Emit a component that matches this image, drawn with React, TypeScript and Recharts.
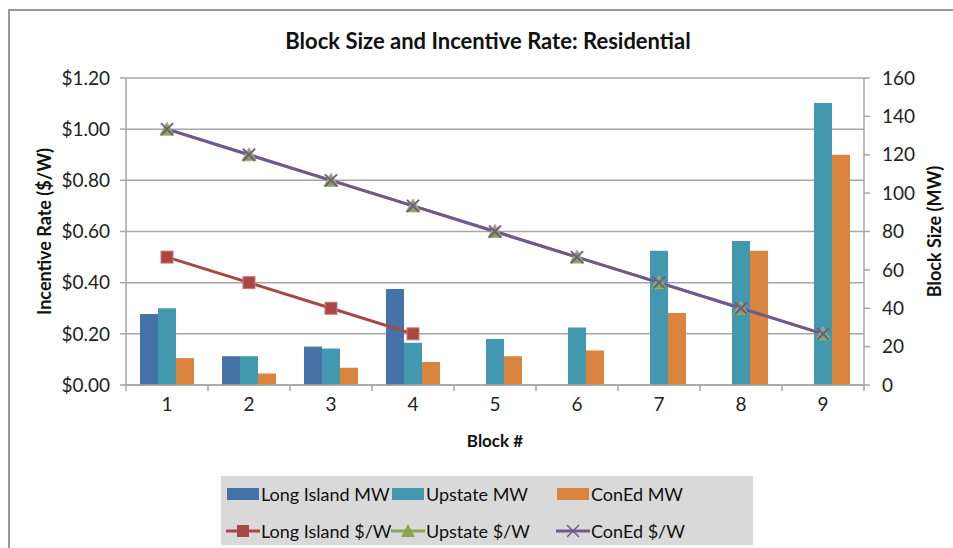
import React from "react";
import {
  ComposedChart,
  Bar,
  Line,
  XAxis,
  YAxis,
  CartesianGrid,
} from "recharts";

const blocks = ["1", "2", "3", "4", "5", "6", "7", "8", "9"];
const longIslandMW = [37, 15, 20, 50, null, null, null, null, null];
const upstateMW = [40, 15, 19, 22, 24, 30, 70, 75, 147];
const conEdMW = [14, 6, 9, 12, 15, 18, 37.5, 70, 120];
const longIslandRate = [0.5, 0.4, 0.3, 0.2, null, null, null, null, null];
const upstateRate = [1.0, 0.9, 0.8, 0.7, 0.6, 0.5, 0.4, 0.3, 0.2];
const conEdRate = [1.0, 0.9, 0.8, 0.7, 0.6, 0.5, 0.4, 0.3, 0.2];

const rateTicks = [0, 0.2, 0.4, 0.6, 0.8, 1.0, 1.2];
const sizeTicks = [0, 20, 40, 60, 80, 100, 120, 140, 160];

const data = blocks.map((b, i) => ({
  block: b,
  liMW: longIslandMW[i],
  upMW: upstateMW[i],
  ceMW: conEdMW[i],
  liRate: longIslandRate[i],
  upRate: upstateRate[i],
  ceRate: conEdRate[i],
}));

const FONT = "Lato, 'Open Sans', sans-serif";
const BLUE = "#4572A7";
const TEAL = "#4198AF";
const ORANGE = "#DB843D";
const RED = "#AA4643";
const GREEN = "#89A54E";
const PURPLE = "#71588F";
const AXIS = "#a6a6a6";

const SquareDot = (props: any) => {
  const { cx, cy, value } = props;
  if (value == null || cx == null || cy == null) return <g key={props.key} />;
  return (
    <rect key={props.key} x={cx - 6} y={cy - 6} width={12} height={12} fill={RED} stroke="#c77b79" strokeWidth={1} />
  );
};

const TriangleDot = (props: any) => {
  const { cx, cy } = props;
  if (cx == null || cy == null) return <g key={props.key} />;
  return (
    <polygon key={props.key} points={`${cx},${cy - 7} ${cx + 7},${cy + 6} ${cx - 7},${cy + 6}`} fill={GREEN} stroke="#9ab96a" strokeWidth={1} />
  );
};

const CrossDot = (props: any) => {
  const { cx, cy } = props;
  if (cx == null || cy == null) return <g key={props.key} />;
  return (
    <g key={props.key} stroke={PURPLE} strokeWidth={2}>
      <line x1={cx - 6} y1={cy - 6} x2={cx + 6} y2={cy + 6} />
      <line x1={cx - 6} y1={cy + 6} x2={cx + 6} y2={cy - 6} />
    </g>
  );
};

// category label plus boundary tick marks like Excel
const BlockTick = (props: any) => {
  const { x, y, payload, index, visibleTicksCount } = props;
  const half = 41;
  return (
    <g>
      <line x1={x - half} y1={y - 8} x2={x - half} y2={y - 2} stroke={AXIS} strokeWidth={1.5} />
      {index === visibleTicksCount - 1 && (
        <line x1={x + half} y1={y - 8} x2={x + half} y2={y - 2} stroke={AXIS} strokeWidth={1.5} />
      )}
      <text x={x} y={y + 18} textAnchor="middle" fontSize={19} fill="#222" fontFamily={FONT}>
        {payload.value}
      </text>
    </g>
  );
};

const legendRows = [
  [
    { label: "Long Island MW", kind: "bar", color: BLUE },
    { label: "Upstate MW", kind: "bar", color: TEAL },
    { label: "ConEd MW", kind: "bar", color: ORANGE },
  ],
  [
    { label: "Long Island $/W", kind: "square", color: RED },
    { label: "Upstate $/W", kind: "triangle", color: GREEN },
    { label: "ConEd $/W", kind: "cross", color: PURPLE },
  ],
];

function LegendIcon({ kind, color }: { kind: string; color: string }) {
  return (
    <svg width={34} height={16} style={{ display: "block" }}>
      {kind === "bar" && <rect x={1} y={2} width={32} height={12} fill={color} />}
      {kind !== "bar" && <line x1={0} y1={8} x2={34} y2={8} stroke={color} strokeWidth={3} />}
      {kind === "square" && <rect x={11} y={2} width={12} height={12} fill={color} />}
      {kind === "triangle" && <polygon points="17,1 24,14 10,14" fill={color} />}
      {kind === "cross" && (
        <g stroke={color} strokeWidth={1.5}>
          <line x1={11} y1={2} x2={23} y2={14} />
          <line x1={11} y1={14} x2={23} y2={2} />
        </g>
      )}
    </svg>
  );
}

export default function App() {
  return (
    <div style={{ position: "absolute", left: 0, top: 0, width: 953, height: 548, background: "#fff", fontFamily: FONT }}>
      <div
        style={{
          position: "absolute",
          left: 8,
          top: 9,
          width: 945,
          height: 539,
          borderTop: "2px solid #999",
          borderLeft: "2px solid #999",
        }}
      />
      <div
        style={{
          position: "absolute",
          top: 27,
          left: 0,
          width: 976,
          textAlign: "center",
          fontSize: 22,
          fontWeight: 700,
          color: "#111",
        }}
      >
        Block Size and Incentive Rate: Residential
      </div>
      <div style={{ position: "absolute", left: 0, top: 0 }}>
        <ComposedChart
          width={953}
          height={548}
          data={data}
          margin={{ top: 78, right: 0, left: 10, bottom: 99 }}
          barCategoryGap={14}
          barGap={0}
        >
          <CartesianGrid yAxisId="left" vertical={false} stroke={AXIS} strokeWidth={1.5} />
          <XAxis
            dataKey="block"
            height={64}
            axisLine={{ stroke: AXIS, strokeWidth: 1.5 }}
            tickLine={false}
            tick={<BlockTick />}
            interval={0}
            label={{ value: "Block #", position: "insideBottom", offset: 2, fontSize: 17, fontWeight: 700, fill: "#111", fontFamily: FONT }}
          />
          <YAxis
            yAxisId="left"
            width={116}
            domain={[0, 1.2]}
            ticks={rateTicks}
            tickFormatter={(v: number) => `$${v.toFixed(2)}`}
            axisLine={{ stroke: AXIS, strokeWidth: 1.5 }}
            tickLine={{ stroke: AXIS, strokeWidth: 1.5 }}
            tickSize={6}
            tick={{ fontSize: 19, fill: "#222", fontFamily: FONT }}
            tickMargin={10}
            label={{ value: "Incentive Rate ($/W)", angle: -90, position: "insideLeft", offset: 35, fontSize: 18, fontWeight: 700, fill: "#111", fontFamily: FONT, style: { textAnchor: "middle" } }}
          />
          <YAxis
            yAxisId="right"
            orientation="right"
            width={89}
            domain={[0, 160]}
            ticks={sizeTicks}
            axisLine={{ stroke: AXIS, strokeWidth: 1.5 }}
            tickLine={{ stroke: AXIS, strokeWidth: 1.5 }}
            tickSize={6}
            tick={{ fontSize: 19, fill: "#222", fontFamily: FONT }}
            tickMargin={12}
            label={{ value: "Block Size (MW)", angle: -90, position: "insideRight", offset: 18, fontSize: 18, fontWeight: 700, fill: "#111", fontFamily: FONT, style: { textAnchor: "middle" } }}
          />
          <Bar yAxisId="right" dataKey="liMW" fill={BLUE} isAnimationActive={false} />
          <Bar yAxisId="right" dataKey="upMW" fill={TEAL} isAnimationActive={false} />
          <Bar yAxisId="right" dataKey="ceMW" fill={ORANGE} isAnimationActive={false} />
          <Line yAxisId="left" dataKey="liRate" stroke={RED} strokeWidth={3} dot={SquareDot} activeDot={false} isAnimationActive={false} />
          <Line yAxisId="left" dataKey="upRate" stroke={GREEN} strokeWidth={3} dot={TriangleDot} activeDot={false} isAnimationActive={false} />
          <Line yAxisId="left" dataKey="ceRate" stroke={PURPLE} strokeWidth={3} dot={CrossDot} activeDot={false} isAnimationActive={false} />
        </ComposedChart>
      </div>
      <div
        style={{
          position: "absolute",
          left: 221,
          top: 476,
          width: 532,
          height: 69,
          background: "#d9d9d9",
          fontSize: 18,
          color: "#111",
        }}
      >
        {legendRows.map((row, r) => (
          <div key={r} style={{ position: "absolute", top: r === 0 ? 7 : 44, left: 0, height: 22 }}>
            {row.map((item, c) => (
              <div
                key={item.label}
                style={{ position: "absolute", left: 5 + c * 165, top: 0, display: "flex", alignItems: "center", whiteSpace: "nowrap", height: 22 }}
              >
                <LegendIcon kind={item.kind} color={item.color} />
                <span style={{ marginLeft: 1 }}>{item.label}</span>
              </div>
            ))}
          </div>
        ))}
      </div>
    </div>
  );
}
